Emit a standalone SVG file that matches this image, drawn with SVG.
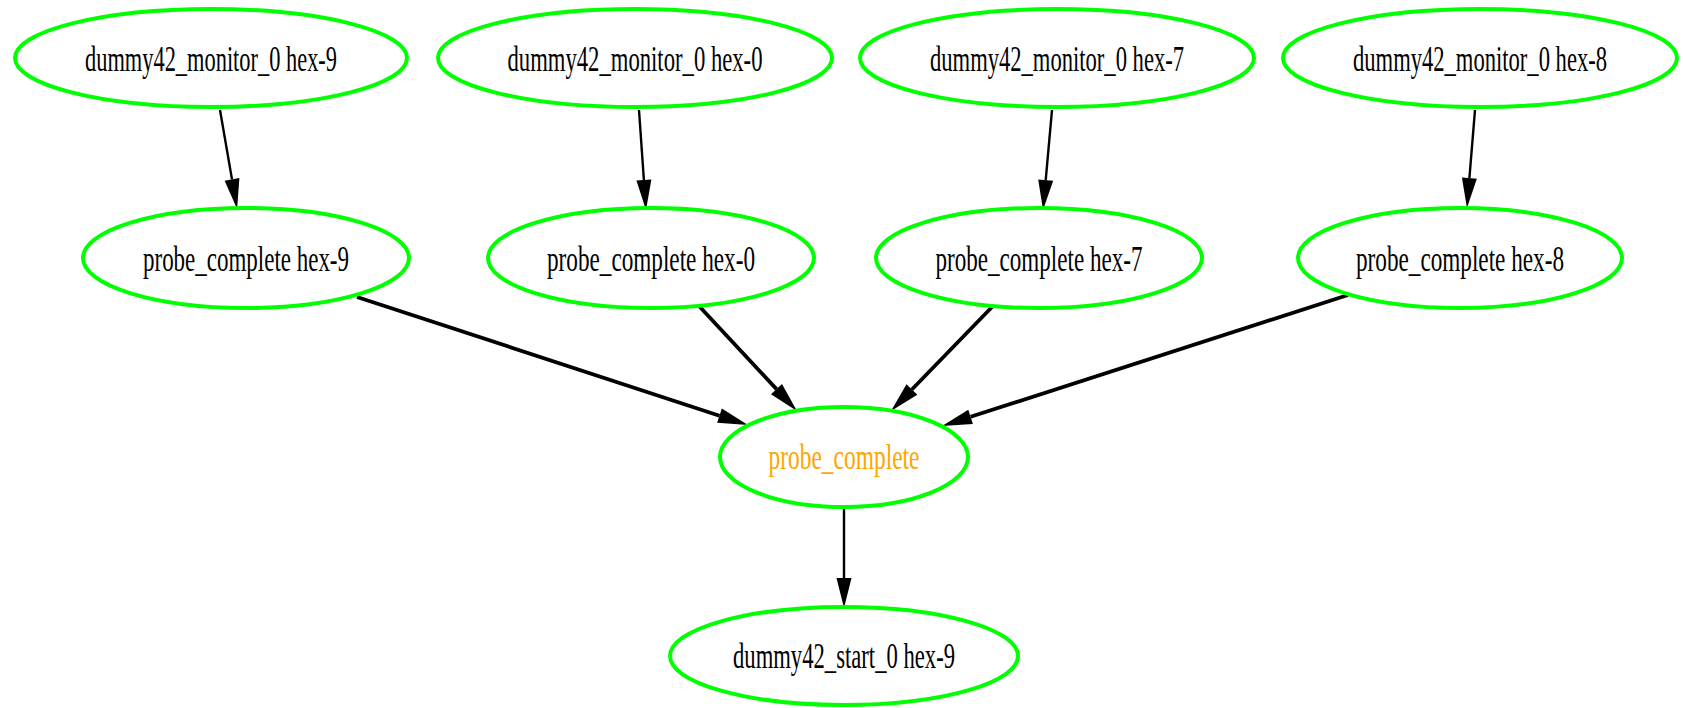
<svg xmlns="http://www.w3.org/2000/svg" width="1683" height="708" viewBox="0 0 1683 708">
<style>
.node ellipse{fill:#ffffff;stroke:#00ff00;stroke-width:4}
.node text{font-family:"Liberation Serif","Times New Roman",serif;font-size:35px;fill:#000000;text-anchor:middle}
.node text.orange{fill:#ffa500}
.edges line{stroke:#000000;fill:none}
.thin{stroke-width:2.4}
.thick{stroke-width:3.8}
</style>
<defs>
<marker id="arrow" markerUnits="userSpaceOnUse" markerWidth="32" markerHeight="16" refX="0" refY="7.5" orient="auto" overflow="visible">
<path d="M0,0 L30,7.5 L0,15 z" fill="#000000"/>
</marker>
</defs>
<rect width="1683" height="708" fill="#ffffff"/>
<g id="edges" class="edges">
<line class="thin" x1="220" y1="110" x2="232" y2="179.4" marker-end="url(#arrow)"/>
<line class="thin" x1="639" y1="110" x2="643.9" y2="180.1" marker-end="url(#arrow)"/>
<line class="thin" x1="1052" y1="110" x2="1045.7" y2="180.1" marker-end="url(#arrow)"/>
<line class="thin" x1="1475" y1="110" x2="1469.4" y2="178.1" marker-end="url(#arrow)"/>
<line class="thick" x1="357" y1="297" x2="719.5" y2="415.7" marker-end="url(#arrow)"/>
<line class="thick" x1="699" y1="306" x2="776.5" y2="389.1" marker-end="url(#arrow)"/>
<line class="thick" x1="992" y1="307" x2="911.9" y2="389.5" marker-end="url(#arrow)"/>
<line class="thick" x1="1348" y1="295" x2="970.6" y2="416.8" marker-end="url(#arrow)"/>
<line class="thin" x1="844" y1="509" x2="844" y2="578" marker-end="url(#arrow)"/>
</g>
<g id="m9" class="node"><ellipse cx="211" cy="58" rx="196" ry="49"/><text x="211" y="71" textLength="252" lengthAdjust="spacingAndGlyphs">dummy42_monitor_0 hex-9</text></g>
<g id="m0" class="node"><ellipse cx="635" cy="58" rx="197" ry="49"/><text x="635" y="71" textLength="255" lengthAdjust="spacingAndGlyphs">dummy42_monitor_0 hex-0</text></g>
<g id="m7" class="node"><ellipse cx="1057" cy="58" rx="197" ry="49"/><text x="1057" y="71" textLength="254" lengthAdjust="spacingAndGlyphs">dummy42_monitor_0 hex-7</text></g>
<g id="m8" class="node"><ellipse cx="1480" cy="58" rx="197" ry="49"/><text x="1480" y="71" textLength="254" lengthAdjust="spacingAndGlyphs">dummy42_monitor_0 hex-8</text></g>
<g id="p9" class="node"><ellipse cx="246" cy="258" rx="163" ry="50"/><text x="246" y="271" textLength="206" lengthAdjust="spacingAndGlyphs">probe_complete hex-9</text></g>
<g id="p0" class="node"><ellipse cx="651" cy="258" rx="163" ry="50"/><text x="651" y="271" textLength="208" lengthAdjust="spacingAndGlyphs">probe_complete hex-0</text></g>
<g id="p7" class="node"><ellipse cx="1039" cy="258" rx="163" ry="50"/><text x="1039" y="271" textLength="207" lengthAdjust="spacingAndGlyphs">probe_complete hex-7</text></g>
<g id="p8" class="node"><ellipse cx="1460" cy="258" rx="162" ry="50"/><text x="1460" y="271" textLength="208" lengthAdjust="spacingAndGlyphs">probe_complete hex-8</text></g>
<g id="pc" class="node"><ellipse cx="844" cy="457" rx="124" ry="50"/><text class="orange" x="844" y="469" textLength="151" lengthAdjust="spacingAndGlyphs">probe_complete</text></g>
<g id="st" class="node"><ellipse cx="844" cy="656" rx="174" ry="49"/><text x="844" y="668" textLength="222" lengthAdjust="spacingAndGlyphs">dummy42_start_0 hex-9</text></g>
</svg>
